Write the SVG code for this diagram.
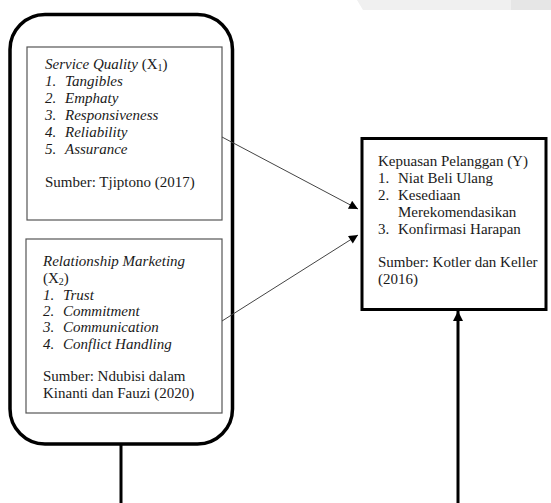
<svg xmlns="http://www.w3.org/2000/svg" width="551" height="503" viewBox="0 0 551 503">
<style>
.i{font-style:italic}
.sub{font-size:10px}
.inner{fill:none;stroke:#555;stroke-width:1.2}
</style>
<defs>
<marker id="ah" viewBox="0 0 10 10" refX="10" refY="5" markerWidth="10" markerHeight="9" markerUnits="userSpaceOnUse" orient="auto"><path d="M0,0 L10,5 L0,10 Z" fill="#000"/></marker>
<marker id="ahb" viewBox="0 0 10 10" refX="10" refY="5" markerWidth="12" markerHeight="10" markerUnits="userSpaceOnUse" orient="auto"><path d="M0,0 L10,5 L0,10 Z" fill="#000"/></marker>
</defs>
<rect width="551" height="503" fill="#fff"/>
<polygon points="357,0 363,10 551,10 551,0" fill="#f0f0f0"/>
<rect x="511" y="0" width="40" height="10" fill="#e6e6e6"/>

<g id="group-x">
<rect x="10" y="14.5" width="222.5" height="429.5" rx="35" fill="none" stroke="#000" stroke-width="3.5"/>
</g>

<g font-family="Liberation Serif, Times New Roman, serif" font-size="15" fill="#1a1a1a">
<g id="x1">
<rect class="inner" x="27" y="47" width="195" height="173"/>
<text><tspan x="45" y="69"><tspan class="i">Service Quality</tspan> (X<tspan class="sub" dy="2">1</tspan><tspan dy="-2">)</tspan></tspan></text>
<text class="i"><tspan x="45" y="86">1.</tspan><tspan x="65" y="86">Tangibles</tspan><tspan x="45" y="103">2.</tspan><tspan x="65" y="103">Emphaty</tspan><tspan x="45" y="120">3.</tspan><tspan x="65" y="120">Responsiveness</tspan><tspan x="45" y="137">4.</tspan><tspan x="65" y="137">Reliability</tspan><tspan x="45" y="154">5.</tspan><tspan x="65" y="154">Assurance</tspan></text>
<text x="45" y="187">Sumber: Tjiptono (2017)</text>
</g>

<g id="x2">
<rect class="inner" x="26" y="239" width="196" height="174"/>
<text><tspan class="i" x="43" y="266">Relationship Marketing</tspan><tspan x="43" y="283">(X<tspan class="sub" dy="2">2</tspan><tspan dy="-2">)</tspan></tspan></text>
<text class="i"><tspan x="43" y="299.5">1.</tspan><tspan x="63" y="299.5">Trust</tspan><tspan x="43" y="316">2.</tspan><tspan x="63" y="316">Commitment</tspan><tspan x="43" y="332">3.</tspan><tspan x="63" y="332">Communication</tspan><tspan x="43" y="348.5">4.</tspan><tspan x="63" y="348.5">Conflict Handling</tspan></text>
<text><tspan x="43" y="381">Sumber: Ndubisi dalam</tspan><tspan x="43" y="397.5">Kinanti dan Fauzi (2020)</tspan></text>
</g>

<g id="y">
<rect x="362" y="138.5" width="184" height="171" fill="#fff" stroke="#000" stroke-width="3"/>
<text><tspan x="378" y="166">Kepuasan Pelanggan (Y)</tspan><tspan x="378" y="183">1.</tspan><tspan x="398" y="183">Niat Beli Ulang</tspan><tspan x="378" y="200">2.</tspan><tspan x="398" y="200">Kesediaan</tspan><tspan x="398" y="217">Merekomendasikan</tspan><tspan x="378" y="234">3.</tspan><tspan x="398" y="234">Konfirmasi Harapan</tspan><tspan x="378" y="267">Sumber: Kotler dan Keller</tspan><tspan x="378" y="284">(2016)</tspan></text>
</g>
</g>

<g id="connectors">
<line x1="222" y1="137" x2="358" y2="209" stroke="#444" stroke-width="1" marker-end="url(#ah)"/>
<line x1="222" y1="321" x2="358" y2="235" stroke="#444" stroke-width="1" marker-end="url(#ah)"/>
<line x1="121" y1="444" x2="121" y2="503" stroke="#000" stroke-width="3"/>
<line x1="458" y1="503" x2="458" y2="311" stroke="#000" stroke-width="3" marker-end="url(#ahb)"/>
</g>
</svg>
